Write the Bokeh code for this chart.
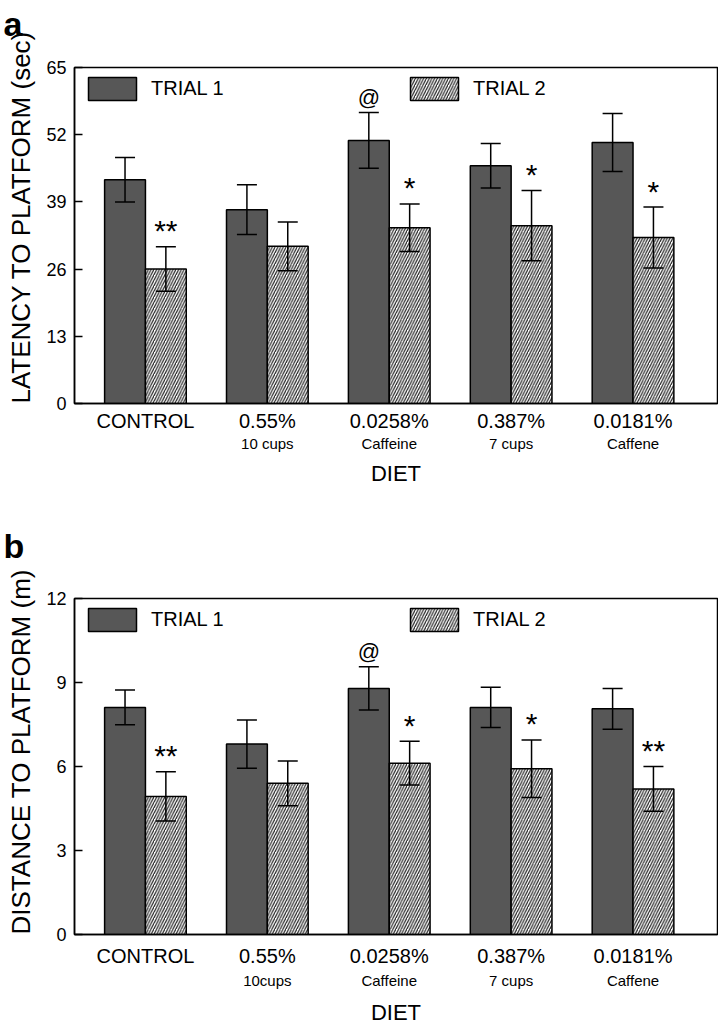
import numpy as np
from bokeh.plotting import figure
from bokeh.models import (ColumnDataSource, Whisker, TeeHead, Legend, LegendItem,
                          LinearAxis, FixedTicker, Range1d, Title)
from bokeh.layouts import column
from bokeh.embed import file_html
from bokeh.resources import INLINE
from bokeh.core.properties import value

# ---------------- data ----------------
diets = ["CONTROL", "0.55%", "0.0258%", "0.387%", "0.0181%"]
diet_notes_a = ["", "10 cups", "Caffeine", "7 cups", "Caffene"]
diet_notes_b = ["", "10cups", "Caffeine", "7 cups", "Caffene"]

latency_t1 = [43.3, 37.5, 50.9, 46.0, 50.5]
latency_t1_err = [4.3, 4.8, 5.4, 4.3, 5.6]
latency_t2 = [26.0, 30.4, 34.0, 34.4, 32.1]
latency_t2_err = [4.3, 4.7, 4.6, 6.8, 5.9]
latency_marks_t1 = ["", "", "@", "", ""]
latency_marks_t2 = ["**", "", "*", "*", "*"]
latency_ticks = [0, 13, 26, 39, 52, 65]

distance_t1 = [8.11, 6.80, 8.79, 8.11, 8.06]
distance_t1_err = [0.62, 0.86, 0.77, 0.72, 0.73]
distance_t2 = [4.93, 5.40, 6.12, 5.92, 5.20]
distance_t2_err = [0.88, 0.80, 0.78, 1.03, 0.80]
distance_marks_t1 = ["", "", "@", "", ""]
distance_marks_t2 = ["**", "", "*", "*", "**"]
distance_ticks = [0, 3, 6, 9, 12]

FONT = "Liberation Sans"
DARK = "#575757"
BAR_W = 0.335


def make_panel(letter, ylabel, t1, e1, t2, e2, m1, m2, notes, ticks,
               height, border_top, border_bottom, std1, std2, std_diet,
               letter_standoff, ylabel_size, ylabel_standoff):
    pos = np.arange(1, len(diets) + 1)
    x1 = pos - BAR_W / 2
    x2 = pos + BAR_W / 2
    t1 = np.array(t1); e1 = np.array(e1)
    t2 = np.array(t2); e2 = np.array(e2)
    src = ColumnDataSource(dict(
        x1=x1, x2=x2, t1=t1, t2=t2,
        t1_lo=t1 - e1, t1_hi=t1 + e1, t2_lo=t2 - e2, t2_hi=t2 + e2,
        m1=m1, m2=m2))

    p = figure(width=718, height=height, output_backend="svg", toolbar_location=None,
               x_range=Range1d(0.418, 5.693), y_range=Range1d(0, ticks[-1]),
               min_border_left=71, min_border_right=1,
               min_border_top=border_top, min_border_bottom=border_bottom)
    p.xgrid.visible = False
    p.ygrid.visible = False
    p.outline_line_color = "black"
    p.outline_line_width = 1.5
    p.background_fill_color = "white"
    p.border_fill_color = "white"

    # panel letter (second blank line only lifts it toward the top edge)
    p.title = Title(text=letter + "\n ", align="left", offset=-71, vertical_align="top",
                    standoff=letter_standoff, text_font=FONT, text_font_size="34px",
                    text_line_height=1.0,
                    text_font_style="bold", text_color="black")

    # y axis
    yax = p.yaxis[0]
    yax.ticker = FixedTicker(ticks=ticks)
    yax.major_tick_in = 8
    yax.major_tick_out = 0
    yax.minor_tick_line_color = None
    yax.axis_line_width = 1.5
    yax.major_tick_line_width = 1.5
    yax.major_label_standoff = 8
    yax.major_label_text_font = FONT
    yax.major_label_text_font_size = "18px"
    yax.major_label_text_color = "black"

    # y-axis title
    p.add_layout(Title(text=ylabel, align="left", offset=0, vertical_align="top",
                       standoff=ylabel_standoff, text_font=FONT,
                       text_font_size=ylabel_size,
                       text_font_style="normal", text_color="black"), "left")

    # x axis: main labels
    xax = p.xaxis[0]
    xax.ticker = FixedTicker(ticks=list(pos))
    xax.major_label_overrides = {int(k): v for k, v in zip(pos, diets)}
    xax.major_tick_in = 0
    xax.major_tick_out = 0
    xax.minor_tick_line_color = None
    xax.major_tick_line_color = None
    xax.axis_line_width = 1.5
    xax.major_label_standoff = std1
    xax.major_label_text_font = FONT
    xax.major_label_text_font_size = "20px"
    xax.major_label_text_color = "black"

    # x axis: sub labels + DIET
    xax2 = LinearAxis(ticker=FixedTicker(ticks=list(pos)),
                      major_label_overrides={int(k): v for k, v in zip(pos, notes)},
                      axis_line_color=None, major_tick_line_color=None,
                      minor_tick_line_color=None, major_tick_in=0, major_tick_out=0,
                      major_label_standoff=std2,
                      major_label_text_font=FONT, major_label_text_font_size="15px",
                      major_label_text_color="black",
                      axis_label="DIET", axis_label_standoff=std_diet,
                      axis_label_text_font=FONT, axis_label_text_font_size="22px",
                      axis_label_text_font_style="normal",
                      axis_label_text_color="black")
    p.add_layout(xax2, "below")

    r1 = p.vbar(x="x1", top="t1", width=BAR_W, source=src, fill_color=DARK,
                line_color="black", line_width=1.5)
    r2 = p.vbar(x="x2", top="t2", width=BAR_W, source=src, fill_color="white",
                line_color="black", line_width=1.5, hatch_pattern="/",
                hatch_color="#222222", hatch_scale=5.5, hatch_weight=1.2)

    for base, lo, hi in (("x1", "t1_lo", "t1_hi"), ("x2", "t2_lo", "t2_hi")):
        w = Whisker(source=src, base=base, lower=lo, upper=hi, line_width=1.5,
                    line_color="black", level="annotation",
                    upper_head=TeeHead(size=20, line_width=1.5, line_color="black"),
                    lower_head=TeeHead(size=20, line_width=1.5, line_color="black"))
        p.add_layout(w)

    p.text(x="x1", y="t1_hi", text="m1", source=src, text_align="center",
           text_baseline="middle", y_offset=-15, text_font=value(FONT),
           text_font_size="22px", text_color="black")
    p.text(x="x2", y="t2_hi", text="m2", source=src, text_align="center",
           text_baseline="middle", y_offset=-16, text_font=value(FONT),
           text_font_size="30px", text_color="black")

    for lbl, r, xloc in (("TRIAL 1", r1, 8), ("TRIAL 2", r2, 330)):
        leg = Legend(items=[LegendItem(label=lbl, renderers=[r])],
                     location=(xloc, 300), glyph_width=60, glyph_height=29,
                     label_standoff=9, padding=0, margin=0, spacing=0,
                     border_line_color=None, background_fill_alpha=0,
                     label_text_font=FONT, label_text_font_size="20px",
                     label_text_color="black")
        p.add_layout(leg)
    return p


pa = make_panel("a", "LATENCY TO PLATFORM (sec)", latency_t1, latency_t1_err,
                latency_t2, latency_t2_err, latency_marks_t1, latency_marks_t2,
                diet_notes_a, latency_ticks, height=500, border_top=67,
                border_bottom=97, std1=6, std2=0, std_diet=6,
                letter_standoff=-30, ylabel_size="26px", ylabel_standoff=11)
pb = make_panel("b", "DISTANCE TO PLATFORM (m)", distance_t1, distance_t1_err,
                distance_t2, distance_t2_err, distance_marks_t1, distance_marks_t2,
                diet_notes_b, distance_ticks, height=527, border_top=98,
                border_bottom=93, std1=10, std2=2, std_diet=8,
                letter_standoff=-12, ylabel_size="26px", ylabel_standoff=11)

layout = column(pa, pb, spacing=0)
open("out.html", "w").write(file_html(layout, INLINE))
